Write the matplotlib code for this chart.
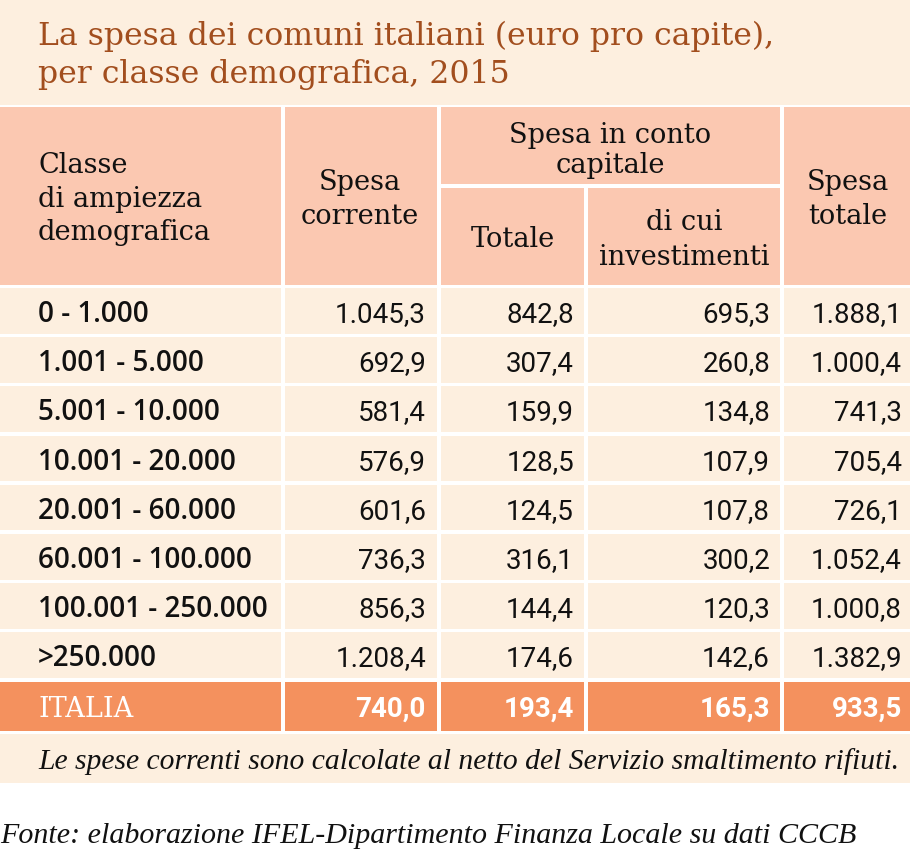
import matplotlib
matplotlib.use("Agg")
import matplotlib.pyplot as plt
from matplotlib.patches import Rectangle

classes = ["0 - 1.000", "1.001 - 5.000", "5.001 - 10.000", "10.001 - 20.000",
           "20.001 - 60.000", "60.001 - 100.000", "100.001 - 250.000", ">250.000"]
spesa_corrente = [1045.3, 692.9, 581.4, 576.9, 601.6, 736.3, 856.3, 1208.4]
cc_totale = [842.8, 307.4, 159.9, 128.5, 124.5, 316.1, 144.4, 174.6]
investimenti = [695.3, 260.8, 134.8, 107.9, 107.8, 300.2, 120.3, 142.6]
spesa_totale = [1888.1, 1000.4, 741.3, 705.4, 726.1, 1052.4, 1000.8, 1382.9]
italia_label = "ITALIA"
italia_values = [740.0, 193.4, 165.3, 933.5]

title_lines = ["La spesa dei comuni italiani (euro pro capite),", "per classe demografica, 2015"]
note = "Le spese correnti sono calcolate al netto del Servizio smaltimento rifiuti."
source = "Fonte: elaborazione IFEL-Dipartimento Finanza Locale su dati CCCB"

def fmt(v):
    s = f"{v:,.1f}"
    return s.replace(",", "X").replace(".", ",").replace("X", ".")

CREAM = "#FDEFDF"
SALMON = "#FBC8B1"
ORANGE = "#F4915E"
BROWN = "#A24E1E"
SERIF = ["DejaVu Serif"]
ISERIF = ["Liberation Serif", "DejaVu Serif"]
NUM = ["Roboto", "DejaVu Sans"]
SANS = ["Open Sans", "DejaVu Sans"]

W, H = 910, 867
fig = plt.figure(figsize=(W / 100, H / 100), dpi=100)
ax = fig.add_axes([0, 0, 1, 1])
ax.set_xlim(0, W)
ax.set_ylim(H, 0)
ax.axis("off")
renderer = fig.canvas.get_renderer()

def fit(t, target):
    for _ in range(3):
        w = t.get_window_extent(renderer).width
        t.set_fontsize(t.get_fontsize() * target / w)

# backgrounds
ax.add_patch(Rectangle((0, 0), W, 783, color=CREAM, lw=0))
ax.add_patch(Rectangle((0, 105), W, 630, color="white", lw=0))
ax.add_patch(Rectangle((0, 734), W, 49, color=CREAM, lw=0))

cols = [(0, 281), (285, 437), (441, 584), (588, 780), (784, 910)]

def cell(x0, x1, y0, y1, c):
    ax.add_patch(Rectangle((x0, y0), x1 - x0, y1 - y0, color=c, lw=0))

# header
top, bot, mid1, mid2 = 107, 285, 184, 188
cell(*cols[0], top, bot, SALMON)
cell(*cols[1], top, bot, SALMON)
cell(cols[2][0], cols[3][1], top, mid1, SALMON)
cell(*cols[2], mid2, bot, SALMON)
cell(*cols[3], mid2, bot, SALMON)
cell(*cols[4], top, bot, SALMON)

probe = ax.text(0, -100, "Spesa in conto", fontsize=19, family=SERIF)
fit(probe, 202)
hfs = probe.get_fontsize()
probe.remove()

header = [
    ("Classe", 38, 173, "left"), ("di ampiezza", 38, 207, "left"), ("demografica", 38, 240, "left"),
    ("Spesa", 360, 190, "center"), ("corrente", 360, 224, "center"),
    ("Spesa in conto", 610, 143, "center"), ("capitale", 610, 173, "center"),
    ("Totale", 513, 247, "center"),
    ("di cui", 684, 230, "center"), ("investimenti", 684, 265, "center"),
    ("Spesa", 848, 190, "center"), ("totale", 848, 224, "center"),
]
for s, x, y, ha in header:
    ax.text(x, y, s, fontsize=hfs, family=SERIF, ha=ha, va="baseline", color="#111111")

# data rows
row0, pitch, rh = 288, 49.2, 45.5
rights = [426, 574, 770, 902]
series = [spesa_corrente, cc_totale, investimenti, spesa_totale]
for i, lab in enumerate(classes):
    y0 = row0 + i * pitch
    for c in cols:
        cell(*c, y0, y0 + rh, CREAM)
    yb = y0 + 34
    ax.text(38, yb, lab, fontsize=20, family=SANS, weight="semibold", ha="left", va="baseline", color="#111111")
    for r, s in zip(rights, series):
        ax.text(r, yb, fmt(s[i]), fontsize=20, family=NUM, weight="normal", ha="right", va="baseline", color="#111111")

# ITALIA row
y0 = row0 + len(classes) * pitch
for c in cols:
    cell(*c, y0, y0 + rh + 4, ORANGE)
yb = 717
ax.text(38, yb, italia_label, fontsize=19.5, family=SERIF, color="white", ha="left", va="baseline")
for r, v in zip(rights, italia_values):
    ax.text(r, yb, fmt(v), fontsize=20, family=NUM, weight="bold", color="white", ha="right", va="baseline")

# note and source
t = ax.text(38, 769, note, fontsize=20, family=ISERIF, style="italic", ha="left", va="baseline", color="#111111")
fit(t, 860)
t = ax.text(0, 843, source, fontsize=20, family=ISERIF, style="italic", ha="left", va="baseline", color="#111111")
fit(t, 855)

# title
t1 = ax.text(38, 45, title_lines[0], fontsize=22, family=SERIF, color=BROWN, ha="left", va="baseline")
fit(t1, 737)
ax.text(38, 83, title_lines[1], fontsize=t1.get_fontsize(), family=SERIF, color=BROWN, ha="left", va="baseline")

fig.savefig("out.png", dpi=100)
